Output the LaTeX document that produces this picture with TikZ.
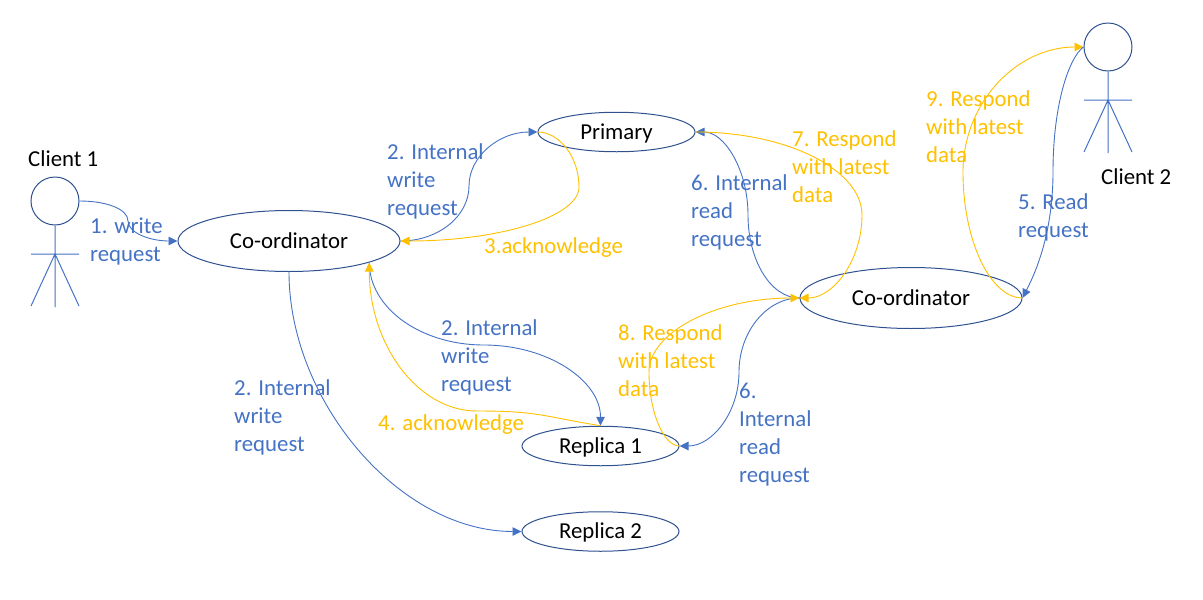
\documentclass[tikz,border=0pt]{standalone}
\usepackage{fontspec}
\setmainfont{Carlito}
\usetikzlibrary{positioning,shapes,arrows.meta}
\definecolor{wireblue}{HTML}{4472C4}
\definecolor{wireyellow}{HTML}{FFC000}
\definecolor{rimblue}{HTML}{2F528F}
\tikzstyle{role}=[%
      ellipse, draw=rimblue, line width=1pt, fill=none, inner sep=0pt,
      text height=14pt, text depth=0pt,
      font=\fontsize{22.8}{27.7}\selectfont
]
\tikzstyle{big}=[role, minimum width=222pt, minimum height=61pt]
\tikzstyle{small}=[role, minimum width=157pt, minimum height=39.5pt]
\tikzstyle{who}=[inner sep=0pt, anchor=base west, yshift=-1pt, font=\fontsize{22.8}{27.7}\selectfont]
\tikzstyle{bluetext}=[who, text=wireblue, align=left]
\tikzstyle{yellowtext}=[who, text=wireyellow, align=left]
\tikzstyle{head}=[circle, draw=rimblue, line width=1pt, minimum size=48pt, inner sep=0pt]
\tikzstyle{limb}=[draw=wireblue, line width=1pt]
\tikzstyle{bluewire}=[draw=wireblue, line width=0.9pt, -{Triangle[length=9pt,width=8.5pt]}]
\tikzstyle{yellowwire}=[draw=wireyellow, line width=0.9pt, -{Triangle[length=9pt,width=8.5pt]}]
\begin{document}
\begin{tikzpicture}[x=1pt, y=-1pt]
    \useasboundingbox (0,0) rectangle (1203,600);

    \node[big]   (co1)     at (289,241)  {Co-ordinator};
    \node[big]   (co2)     at (911,298)  {Co-ordinator};
    \node[small] (primary) at (616.5,132)  {Primary};
    \node[small] (rep1)    at (600.5,446)  {Replica 1};
    \node[small] (rep2)    [below = 45pt of rep1] {Replica 2};

    % the two clients
    \node[head] (head1) at (55,201)  {};
    \node[head] (head2) at (1108,47) {};
    \coordinate (hip1) at (55,254);
    \coordinate (hip2) at (1108,100);
    \draw[limb] (head1.south) -- (55,307)
                (31,254) -- (79,254)
                (31,306) -- (hip1) -- (79,306);
    \draw[limb] (head2.south) -- (1108,153)
                (1084,100) -- (1132,100)
                (1084,152) -- (hip2) -- (1132,152);
    \node[who] (client1) at (28,165)   {Client 1};
    \node[who] (client2) at (1101,183) {Client 2};

    % bends of the connectors
    \coordinate (b1) at (128,221);
    \coordinate (b2) at (469,186);
    \coordinate (b3) at (579,187);
    \coordinate (b4) at (748,215);
    \coordinate (b5) at (862,215);
    \coordinate (b6) at (484,345);
    \coordinate (b7) at (477,411);
    \coordinate (b9) at (739,372);
    \coordinate (b10) at (649,372);
    \coordinate (b11) at (963,172);
    \coordinate (b12) at (1053,172);

    \path[bluewire] (head1.east) .. controls +(27,0) and +(0,-12) .. (b1) .. controls +(0,12) and +(-27,0) .. (co1.west);
    \path[bluewire] (co1.east) .. controls +(38,0) and +(0,30) .. (b2) .. controls +(0,-30) and +(-38,0) .. (primary.west);
    \path[yellowwire] (primary.west) .. controls +(22,0) and +(0,-30) .. (b3) .. controls +(0,30) and +(98,0) .. (co1.east);
    \path[bluewire] (co2.west) .. controls +(-29,0) and +(0,45) .. (b4) .. controls +(0,-45) and +(29,0) .. (primary.east);
    \path[yellowwire] (primary.east) .. controls +(92,0) and +(0,-45) .. (b5) .. controls +(0,45) and +(34,0) .. (co2.west);
    \path[bluewire] (co1.-15.5) .. controls +(0,45) and +(-64,0) .. (b6) .. controls +(64,0) and +(0,-45) .. (rep1.north);
    \path[yellowwire] (rep1.north) .. controls +(-60,-10) and +(60,0) .. (b7) .. controls +(-60,0) and +(0,81) .. (co1.-15.5);
    \path[bluewire] (co1.south) .. controls +(0,129) and +(-122,0) .. (rep2.west);
    \path[bluewire] (co2.west) .. controls +(-33,0) and +(0,-40) .. (b9) .. controls +(0,40) and +(33,0) .. (rep1.east);
    \path[yellowwire] (rep1.east) .. controls +(-16,0) and +(0,40) .. (b10) .. controls +(0,-40) and +(-83,0) .. (co2.west);
    \path[yellowwire] (co2.east) .. controls +(-32,0) and +(0,69) .. (b11) .. controls +(0,-69) and +(-67,0) .. (head2.west);
    \path[bluewire] (head2.west) .. controls +(-14,10) and +(0,-69) .. (b12) .. controls +(0,69) and +(8,-16) .. (co2.east);

    \node[bluetext] (t1) at (90,260)  {1. write\\request};
    \node[bluetext] (t2) at (387,214) {2. Internal\\write\\request};
    \node[yellowtext] (t3) at (484,252) {3.acknowledge};
    \node[bluetext] (t4) at (441,390) {2. Internal\\write\\request};
    \node[bluetext] (t5) at (234,450) {2. Internal\\write\\request};
    \node[yellowtext] (t6) at (378,429) {4. acknowledge};
    \node[bluetext] (t7) at (1018,236) {5. Read\\request};
    \node[bluetext] (t8) at (691,245) {6. Internal\\read\\request};
    \node[bluetext] (t9) at (739,481) {6.\\Internal\\read\\request};
    \node[yellowtext] (t10) at (792,201) {7. Respond\\with latest\\data};
    \node[yellowtext] (t11) at (618,395) {8. Respond\\with latest\\data};
    \node[yellowtext] (t12) at (926,161) {9. Respond\\with latest\\data};
\end{tikzpicture}
\end{document}
